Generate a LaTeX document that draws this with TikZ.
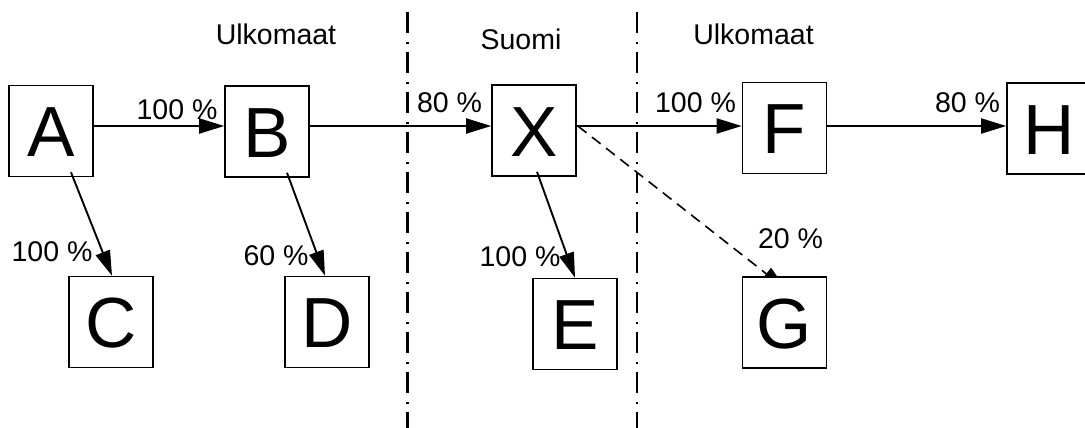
\documentclass[tikz,border=0pt]{standalone}
\usepackage{fontspec}
\setmainfont{Liberation Sans}
\usetikzlibrary{arrows.meta,backgrounds}
\begin{document}
\begin{tikzpicture}[x=1pt,y=-1pt,
  box/.style={draw,line width=1.6pt,minimum width=84pt,minimum height=91pt,inner sep=0pt,
    font=\fontsize{71}{71}\selectfont,text height=51pt,text depth=0pt},
  lbl/.style={anchor=base,inner sep=0pt,font=\fontsize{28.5}{28.5}\selectfont},
  flow/.style={line width=1.9pt,-{Triangle[length=25pt,width=15pt]}},
  border/.style={line width=2.3pt,dash pattern=on 21pt off 9pt on 2pt off 8pt}]
\useasboundingbox (0,0) rectangle (1085,428);

% boundaries
\coordinate (l1t) at (407.5,12);
\coordinate (l1b) at (407.5,430);
\coordinate (l2t) at (637,12);
\coordinate (l2b) at (637,430);
\draw[border] (l1t) -- (l1b);
\draw[border] (l2t) -- (l2b);

% region titles
\node[lbl] (u1) at (276,45) {Ulkomaat};
\node[lbl] (su) at (521,50) {Suomi};
\node[lbl] (u2) at (753.5,45) {Ulkomaat};

% boxes
\node[box] (A) at (51,131) {A};
\node[box] (B) at (267,131.5) {B};
\node[box] (C) at (111,322) {C};
\node[box] (D) at (327,322) {D};
\node[box] (X) at (534,130.5) {X};
\node[box] (E) at (575,324) {E};
\node[box] (F) at (784.5,128) {F};
\node[box,fill=white] (G) at (784.5,322.5) {G};
\node[box] (H) at (1049,128.5) {H};

\coordinate (r) at (0,126);

% connectors
\draw[flow] (A.east |- r) -- (B.west |- r);
\draw[flow] (B.east |- r) -- (X.west |- r);
\draw[flow] (X.east |- r) -- (F.west |- r);
\draw[flow] (F.east |- r) -- (H.west |- r);
\draw[flow] ([xshift=20pt,yshift=5pt]A.south) -- ([xshift=1pt]C.north);
\draw[flow] ([xshift=20pt,yshift=5pt]B.south) -- ([xshift=-2pt]D.north);
\draw[flow] ([xshift=3pt,yshift=5pt]X.south) -- (E.north);
\begin{pgfonlayer}{background}
\draw[flow,line width=1.6pt,dash pattern=on 11pt off 7pt] ([xshift=1pt]X.east |- r) -- ([xshift=1.5pt,yshift=-13pt]G.north);
\end{pgfonlayer}

% labels
\node[lbl] (lab) at (177,119) {100 \%};
\node[lbl] (lac) at (52,261) {100 \%};
\node[lbl] (lbd) at (276,265) {60 \%};
\node[lbl] (lbx) at (449.5,113) {80 \%};
\node[lbl] (lxf) at (695.5,113) {100 \%};
\node[lbl] (lxe) at (520,266) {100 \%};
\node[lbl] (lxg) at (790.5,248) {20 \%};
\node[lbl] (lfh) at (967.5,113) {80 \%};
\end{tikzpicture}
\end{document}
